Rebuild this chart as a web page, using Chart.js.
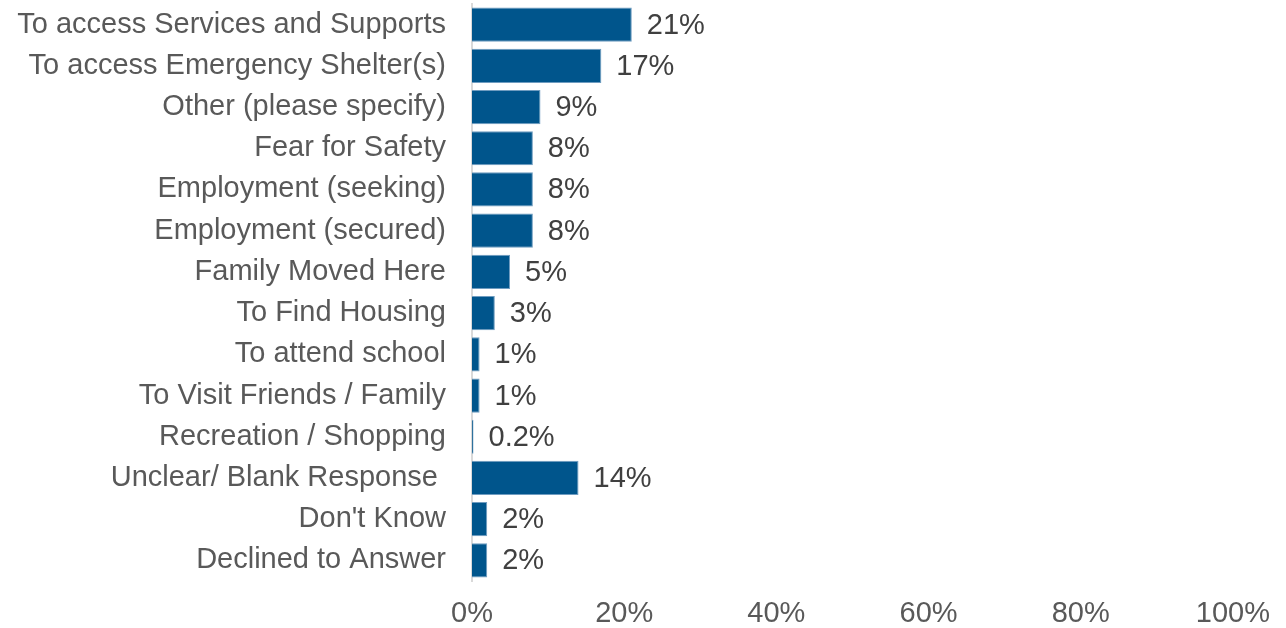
<!DOCTYPE html>
<html>
<head>
<meta charset="utf-8">
<title>Reasons for coming</title>
<script src="https://cdn.jsdelivr.net/npm/chart.js@4.4.1/dist/chart.umd.min.js"></script>
<style>
  body { margin: 0; background: #fff; }
  canvas { display: block; }
</style>
</head>
<body>
<canvas id="reasonsChart" width="1286" height="628"></canvas>
<script>
// Reasons given, share of responses (%)
const reasons = [
    'To access Services and Supports',
    'To access Emergency Shelter(s)',
    'Other (please specify)',
    'Fear for Safety',
    'Employment (seeking)',
    'Employment (secured)',
    'Family Moved Here',
    'To Find Housing',
    'To attend school',
    'To Visit Friends / Family',
    'Recreation / Shopping',
    'Unclear/ Blank Response ',
    "Don't Know",
    'Declined to Answer'
];
const shares = [21, 17, 9, 8, 8, 8, 5, 3, 1, 1, 0.2, 14, 2, 2];
const xTicks = [0, 20, 40, 60, 80, 100];

const fontFamily = '"Liberation Sans", Arial, sans-serif';

// writes the percentage just past the end of each bar
const barValueLabels = {
    id: 'barValueLabels',
    afterDatasetsDraw(chart) {
        const ctx = chart.ctx;
        const meta = chart.getDatasetMeta(0);
        ctx.save();
        ctx.font = '29px ' + fontFamily;
        ctx.fillStyle = '#404040';
        ctx.textBaseline = 'middle';
        ctx.textAlign = 'left';
        meta.data.forEach((bar, i) => {
            ctx.fillText(shares[i] + '%', bar.x + 15, bar.y + 1);
        });
        ctx.restore();
    }
};

new Chart(document.getElementById('reasonsChart'), {
    type: 'bar',
    data: {
        labels: reasons,
        datasets: [{
            data: shares,
            backgroundColor: '#00558C',
            borderColor: '#6f9cc0',
            borderWidth: 1,
            barPercentage: 0.83,
            categoryPercentage: 1
        }]
    },
    options: {
        indexAxis: 'y',
        responsive: false,
        animation: false,
        layout: {
            padding: { top: 4, right: 13, bottom: 0, left: 0 }
        },
        plugins: {
            legend: { display: false },
            tooltip: { enabled: false }
        },
        scales: {
            x: {
                min: 0,
                max: 100,
                afterBuildTicks: (scale) => {
                    scale.ticks = xTicks.map(v => ({ value: v }));
                },
                afterFit: (scale) => { scale.height = 47; },
                grid: { display: false, drawTicks: false },
                border: { display: false },
                ticks: {
                    padding: 16,
                    color: '#595959',
                    font: { family: fontFamily, size: 29 },
                    callback: (v) => v + '%'
                }
            },
            y: {
                afterFit: (scale) => {
                    scale.width = 472;
                    scale.paddingTop = 0;
                    scale.paddingBottom = 0;
                },
                grid: { display: false, drawTicks: false },
                border: { display: true, color: '#d9d9d9', width: 2 },
                ticks: {
                    padding: 26,
                    autoSkip: false,
                    color: '#595959',
                    font: { family: fontFamily, size: 29 }
                }
            }
        }
    },
    plugins: [barValueLabels]
});
</script>
</body>
</html>
